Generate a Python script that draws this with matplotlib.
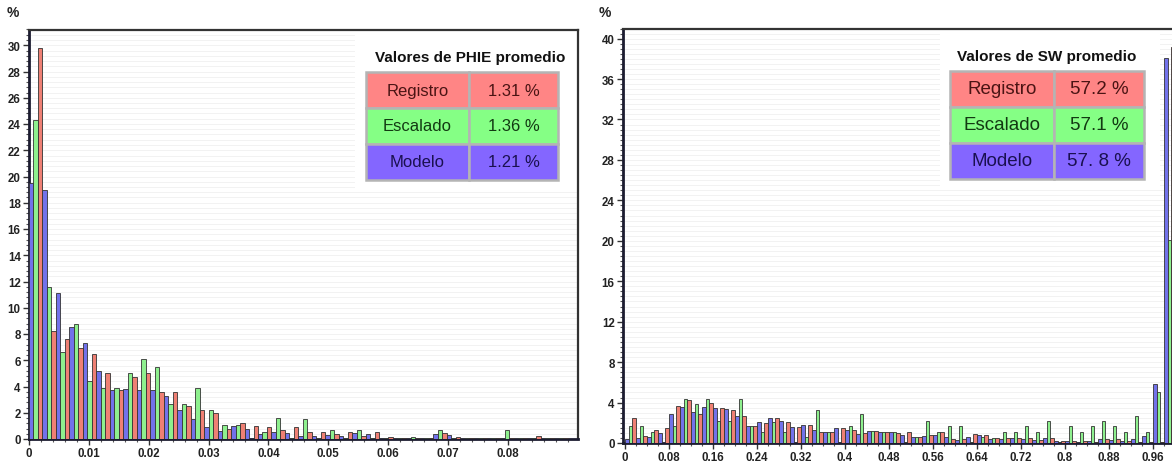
import numpy as np
import matplotlib
matplotlib.use("Agg")
import matplotlib.pyplot as plt
from matplotlib.patches import Rectangle
from matplotlib.ticker import MultipleLocator

plt.rcParams['font.family'] = ['Liberation Sans', 'DejaVu Sans']

# PHIE histogram: 40 bins of 0.00225 from 0 to 0.09
phie_edges = np.linspace(0, 0.09, 41)[:-1]
phie_modelo = [19.5, 19.0, 11.1, 8.5, 7.3, 5.2, 3.7, 3.8, 3.7, 3.7, 3.3, 2.2, 1.5, 0.9, 0.6, 1.0,
               0.8, 0.4, 0.5, 0.45, 0.25, 0.25, 0.3, 0.25, 0.45, 0.35, 0.1, 0.05, 0.1, 0.05,
               0.4, 0.3, 0.05, 0.1, 0.05, 0.1, 0.05, 0.1, 0.05, 0.1]
phie_escalado = [24.3, 11.6, 6.6, 8.8, 4.4, 3.9, 3.9, 5.0, 6.1, 5.5, 2.7, 2.7, 3.9, 2.2, 1.1, 1.1,
                 0.0, 0.5, 1.6, 0.05, 1.5, 0.05, 0.7, 0.1, 0.7, 0.05, 0.05, 0.1, 0.15, 0.05,
                 0.7, 0.05, 0.1, 0.05, 0.1, 0.7, 0.1, 0.05, 0.05, 0.1]
phie_registro = [29.8, 8.2, 7.6, 6.9, 6.5, 5.0, 3.7, 4.7, 5.0, 3.6, 3.6, 2.5, 2.2, 2.0, 0.8, 1.2,
                 1.0, 0.9, 0.7, 0.9, 0.5, 0.5, 0.35, 0.5, 0.25, 0.5, 0.15, 0.1, 0.05, 0.1,
                 0.45, 0.15, 0.05, 0.1, 0.05, 0.1, 0.05, 0.2, 0.05, 0.1]

# SW histogram: 50 bins of 0.02 from 0 to 1
sw_edges = np.linspace(0, 1.0, 51)[:-1]
sw_modelo = [0.35, 0.45, 0.55, 1.0, 2.85, 3.6, 3.1, 3.6, 3.45, 3.4, 2.7, 1.7, 2.1, 2.5, 2.2, 1.6,
             1.8, 1.3, 1.1, 1.45, 1.3, 0.9, 1.2, 1.05, 1.05, 0.8, 0.6, 0.7, 0.8, 0.55,
             0.3, 0.6, 0.8, 0.4, 0.4, 0.5, 0.4, 0.3, 0.5, 0.2, 0.2, 0.1, 0.2, 0.4, 0.3,
             0.2, 0.4, 0.7, 5.8, 38.1]
sw_escalado = [1.7, 1.7, 1.1, 0.0, 1.7, 4.4, 3.85, 4.4, 2.2, 2.2, 4.4, 1.7, 1.1, 2.1, 1.1, 0.0,
               0.6, 3.3, 1.1, 0.0, 1.7, 2.85, 1.2, 1.1, 1.1, 0.05, 0.6, 2.2, 1.1, 1.7,
               1.7, 0.05, 0.6, 0.5, 1.1, 1.1, 1.7, 1.1, 2.2, 0.1, 1.7, 1.1, 1.7, 2.2, 1.7,
               1.1, 2.7, 1.1, 5.0, 20.1]
sw_registro = [2.5, 0.7, 1.3, 1.45, 3.7, 4.25, 2.85, 4.0, 3.45, 3.3, 2.7, 1.7, 1.95, 2.45, 2.1, 1.6,
               1.8, 1.1, 1.1, 1.45, 1.3, 0.95, 1.2, 1.05, 0.95, 1.05, 0.6, 0.8, 1.05, 0.4,
               0.4, 0.9, 0.8, 0.5, 0.5, 0.5, 0.5, 0.3, 0.5, 0.15, 0.2, 0.15, 0.1, 0.35, 0.4,
               0.2, 0.05, 0.1, 0.1, 39.2]

phie_ticks = [0, 0.01, 0.02, 0.03, 0.04, 0.05, 0.06, 0.07, 0.08]
phie_ticklabels = ['0', '0.01', '0.02', '0.03', '0.04', '0.05', '0.06', '0.07', '0.08']
sw_ticks = [0, 0.08, 0.16, 0.24, 0.32, 0.4, 0.48, 0.56, 0.64, 0.72, 0.8, 0.88, 0.96]
sw_ticklabels = ['0', '0.08', '0.16', '0.24', '0.32', '0.4', '0.48', '0.56', '0.64', '0.72',
                 '0.8', '0.88', '0.96']

labels = ['Registro', 'Escalado', 'Modelo']
phie_means = ['1.31 %', '1.36 %', '1.21 %']
sw_means = ['57.2 %', '57.1 %', '57. 8 %']

bar_colors = {'modelo': '#7272ea', 'escalado': '#8ef08e', 'registro': '#ef8074'}
cell_colors = ['#ff8585', '#85ff85', '#8466ff']
text_colors = ['#4a1414', '#123a12', '#1a1050']

W, H = 1172, 464
fig = plt.figure(figsize=(W / 100, H / 100), dpi=100)
fig.patch.set_facecolor('white')


def px_axes(x0, y0, x1, y1):
    return fig.add_axes([x0 / W, 1 - y1 / H, (x1 - x0) / W, (y1 - y0) / H])


def draw_hist(ax, edges, width, modelo, escalado, registro):
    bw = width / 3
    kw = dict(width=bw, align='edge', edgecolor='#333333', linewidth=0.6, zorder=3)
    ax.bar(edges, modelo, color=bar_colors['modelo'], **kw)
    ax.bar(edges + bw, escalado, color=bar_colors['escalado'], **kw)
    ax.bar(edges + 2 * bw, registro, color=bar_colors['registro'], **kw)


def style_axes(ax, ymajor, yminor, xminor):
    ax.yaxis.set_major_locator(MultipleLocator(ymajor))
    ax.yaxis.set_minor_locator(MultipleLocator(yminor))
    ax.xaxis.set_minor_locator(MultipleLocator(xminor))
    ax.grid(True, which='both', axis='y', color='#f0f0f0', linewidth=0.6, zorder=0)
    ax.set_axisbelow(True)
    ax.tick_params(axis='both', which='major', length=4, width=1, color='#333333',
                   labelsize=8.3, labelcolor='#222222', pad=2)
    ax.tick_params(axis='both', which='minor', length=2, width=0.8, color='#555555')
    for lab in ax.get_xticklabels() + ax.get_yticklabels():
        lab.set_fontweight('bold')
    for side in ['left', 'bottom']:
        ax.spines[side].set_linewidth(2.0)
        ax.spines[side].set_color('#1c1c30')
    for side in ['top', 'right']:
        ax.spines[side].set_linewidth(1.6)
        ax.spines[side].set_color('#333333')


def draw_table(ax, title, values, box, tbbox, title_xy, fs):
    ax.add_patch(Rectangle((box[0], box[1]), box[2], box[3], transform=ax.transAxes,
                           facecolor='white', edgecolor='none', zorder=1))
    ax.text(title_xy[0], title_xy[1], title, transform=ax.transAxes, ha='center',
            va='center', fontsize=11, fontweight='bold', color='#111111', zorder=5)
    rows = [[l, v] for l, v in zip(labels, values)]
    colours = [[c, c] for c in cell_colors]
    tb = ax.table(cellText=rows, cellColours=colours, cellLoc='center',
                  bbox=tbbox, colWidths=[0.536, 0.464], zorder=5)
    tb.auto_set_font_size(False)
    for (r, c), cell in tb.get_celld().items():
        cell.set_edgecolor('#b4b4b4')
        cell.set_linewidth(1.8)
        cell.get_text().set_fontsize(fs)
        cell.get_text().set_color(text_colors[r])


# Left: PHIE
ax1 = px_axes(29, 30.5, 578, 440)
draw_hist(ax1, phie_edges, 0.00225, np.array(phie_modelo), np.array(phie_escalado),
          np.array(phie_registro))
ax1.set_xlim(0, 0.0917)
ax1.set_ylim(0, 31.2)
ax1.set_xticks(phie_ticks)
ax1.set_xticklabels(phie_ticklabels)
style_axes(ax1, 2, 0.4, 0.002)
draw_table(ax1, 'Valores de PHIE promedio', phie_means,
           (0.594, 0.61, 0.404, 0.384), [0.614, 0.6325, 0.350, 0.2637], (0.803, 0.933), 12)
fig.text(13 / W, 1 - 13 / H, '%', fontsize=10, fontweight='bold', color='#222222',
         ha='center', va='center')

# Right: SW (axes extends beyond the right edge like the cropped original)
ax2 = px_axes(623, 29.5, 1197, 444)
draw_hist(ax2, sw_edges, 0.02, np.array(sw_modelo), np.array(sw_escalado),
          np.array(sw_registro))
ax2.set_xlim(-0.0036, 1.04)
ax2.set_ylim(0, 41)
ax2.set_xticks(sw_ticks)
ax2.set_xticklabels(sw_ticklabels)
style_axes(ax2, 4, 0.5, 0.02)
draw_table(ax2, 'Valores de SW promedio', sw_means,
           (0.552, 0.613, 0.384, 0.38), [0.5697, 0.637, 0.338, 0.2606], (0.739, 0.934), 13.5)
fig.text(605 / W, 1 - 13 / H, '%', fontsize=10, fontweight='bold', color='#222222',
         ha='center', va='center')

fig.savefig('out.png', dpi=100, facecolor='white')
